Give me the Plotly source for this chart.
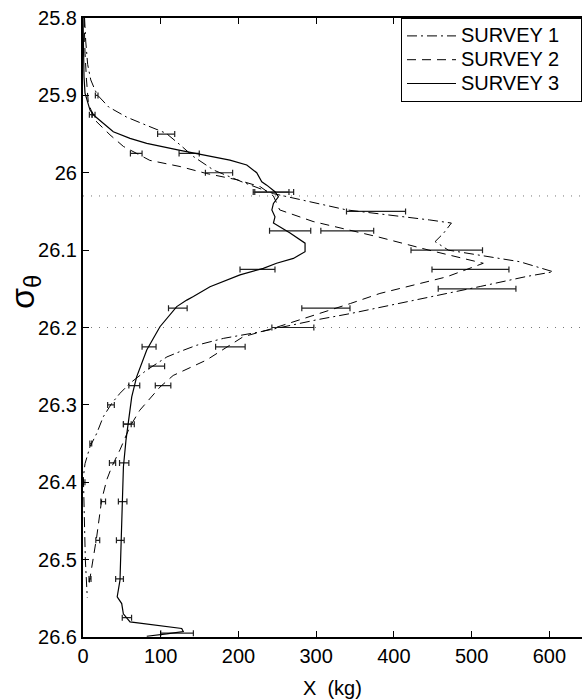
import plotly.graph_objects as go

# ---- profile lines (sigma_theta, X in kg) ----
s1_sig = [25.80, 25.83, 25.86, 25.88, 25.893, 25.90, 25.915, 25.928, 25.938, 25.949, 25.964, 25.979,
          25.9965, 26.012, 26.027, 26.048, 26.061, 26.065, 26.078, 26.089, 26.10, 26.115, 26.128, 26.134,
          26.147, 26.16, 26.169, 26.182, 26.19, 26.199, 26.2056, 26.214, 26.223, 26.231, 26.238, 26.255,
          26.272, 26.285, 26.298, 26.3155, 26.337, 26.354, 26.376, 26.393, 26.45, 26.50, 26.549]
s1_x = [2, 3.5, 6, 10, 15.4, 19, 33, 56, 80, 107, 125, 142,
        168, 205, 245, 339, 446, 474, 464, 453, 470, 562, 605, 571,
        511, 450, 408, 344, 301, 258, 228, 181, 146, 125, 108, 82,
        60.5, 47.6, 37, 26, 17.6, 9, 2.6, 0.5, 1.5, 3, 5.5]

s2_sig = [25.80, 25.8457, 25.88, 25.91, 25.932, 25.951, 25.966, 25.984, 25.992, 26.001, 26.009, 26.018,
          26.03, 26.048, 26.063, 26.073, 26.083, 26.10, 26.117, 26.1345, 26.145, 26.156, 26.169, 26.19,
          26.201, 26.212, 26.242, 26.262, 26.277, 26.307, 26.328, 26.358, 26.38, 26.397, 26.423, 26.4707,
          26.522, 26.537]
s2_x = [1.5, 2.6, 4.5, 6.9, 15.4, 34.7, 52, 86, 125, 159, 198, 228,
        245, 253, 296, 340, 380, 445, 515, 468, 425, 382, 344, 279,
        245, 206, 159, 116, 99, 73, 60.5, 47.6, 37, 30.5, 24, 17.6,
        9, 6.9]

s3_sig = [25.80, 25.8457, 25.876, 25.897, 25.919, 25.927, 25.936, 25.947, 25.9555, 25.962, 25.971, 25.979,
          25.9836, 25.990, 26.0, 26.0117, 26.016, 26.0246, 26.031, 26.0396, 26.048, 26.057, 26.065, 26.078,
          26.091, 26.102, 26.1107, 26.117, 26.1236, 26.132, 26.143, 26.1474, 26.160, 26.1646, 26.173, 26.199,
          26.229, 26.2638, 26.2897, 26.32, 26.3456, 26.38, 26.41, 26.4404, 26.505, 26.5266, 26.548, 26.5568,
          26.57, 26.5805, 26.589, 26.593, 26.596, 26.599]
s3_x = [0, 0.4, 1.3, 2.6, 9, 15.4, 26, 39, 60.5, 82, 125, 167.7,
        189, 210.7, 223.5, 230, 236.4, 247, 251.4, 245, 243, 247, 245, 266.4,
        285.7, 285.7, 270.7, 249, 232, 202, 176, 163.4, 142, 133.5, 120.6, 99,
        82, 69, 62.7, 58.3, 55.3, 52, 51, 49.8, 47.6, 47.6, 44, 49.8,
        51.9, 60.5, 127, 129, 107.7, 82]

# ---- error-bar points ----
e1_sig = [25.90, 25.95, 26.00, 26.05, 26.10, 26.15, 26.20, 26.25, 26.30, 26.35, 26.40]
e1_x = [17.6, 107, 175, 377, 468, 507, 270, 95, 36, 10, 1.5]
e1_err = [1.7, 11, 17.5, 38, 46, 50, 27, 10, 4.3, 1.2, 1]

e2_sig = [25.925, 25.975, 26.025, 26.075, 26.125, 26.175, 26.225, 26.275, 26.325, 26.375, 26.425, 26.475, 26.525]
e2_x = [10, 68.5, 245, 340, 498.5, 312.5, 189.6, 103, 57, 38, 26, 19, 9]
e2_err = [1.8, 7.5, 26, 34, 49.5, 31, 19, 10, 5, 4, 3, 2.5, 1.3]

e3_sig = [25.925, 25.975, 26.025, 26.075, 26.125, 26.175, 26.225, 26.275, 26.325, 26.375, 26.425, 26.475,
          26.525, 26.575, 26.595]
e3_x = [13.5, 136.6, 243, 266.5, 224.5, 122, 85, 66, 59, 53, 51, 48, 47, 56.5, 121]
e3_err = [2, 13, 22, 26.5, 22.5, 12, 9, 7, 7, 6, 5.5, 5, 5, 6, 21]

ref_levels = [26.03, 26.2]
x_ticks = [0, 100, 200, 300, 400, 500, 600]
y_ticks = [25.8, 25.9, 26.0, 26.1, 26.2, 26.3, 26.4, 26.5, 26.6]
y_ticklabels = ["25.8", "25.9", "26", "26.1", "26.2", "26.3", "26.4", "26.5", "26.6"]
series_names = ["SURVEY 1", "SURVEY 2", "SURVEY 3"]

FONT = "Liberation Sans, Arial, Helvetica, sans-serif"
PAD = "\u00a0\u00a0\u00a0"


def legend_name(s):
    return "<span style='font-size:20px'>" + s + PAD + "</span>"


fig = go.Figure()

for ex, ey, ee in [(e1_x, e1_sig, e1_err), (e2_x, e2_sig, e2_err), (e3_x, e3_sig, e3_err)]:
    fig.add_trace(go.Scatter(
        x=ex, y=ey, mode="markers",
        marker=dict(size=1, color="rgba(0,0,0,0)"),
        error_x=dict(type="data", array=ee, symmetric=True, color="#222222", thickness=1.2, width=3),
        showlegend=False, hoverinfo="skip"))

fig.add_trace(go.Scatter(x=s1_x, y=s1_sig, mode="lines", name=legend_name(series_names[0]),
                         line=dict(color="black", width=1, dash="10px,4px,2px,4px")))
fig.add_trace(go.Scatter(x=s2_x, y=s2_sig, mode="lines", name=legend_name(series_names[1]),
                         line=dict(color="black", width=1, dash="9px,6px")))
fig.add_trace(go.Scatter(x=s3_x, y=s3_sig, mode="lines", name=legend_name(series_names[2]),
                         line=dict(color="black", width=1.2)))

for lv in ref_levels:
    fig.add_shape(type="line", xref="paper", x0=0, x1=1, yref="y", y0=lv, y1=lv,
                  line=dict(color="#777777", width=1, dash="1px,7px"), layer="below")

fig.update_layout(
    width=582, height=700,
    margin=dict(l=83, r=0, t=18, b=63),
    paper_bgcolor="white", plot_bgcolor="white",
    font=dict(family=FONT, size=20, color="black"),
    showlegend=True,
    legend=dict(x=1, y=1, xanchor="right", yanchor="top",
                bgcolor="white", bordercolor="black", borderwidth=1,
                font=dict(size=16, family=FONT), itemwidth=49,
                tracegroupgap=0),
    xaxis=dict(range=[0, 642], tickvals=x_ticks, ticks="inside", ticklen=6, tickwidth=1,
               tickcolor="black", showline=True, linewidth=2, linecolor="black",
               mirror="ticks", showgrid=False, zeroline=False,
               tickfont=dict(size=20, family=FONT)),
    yaxis=dict(range=[26.6, 25.8], tickvals=y_ticks, ticktext=y_ticklabels,
               ticks="inside", ticklen=6, tickwidth=1, tickcolor="black",
               showline=True, linewidth=2, linecolor="black", mirror=False,
               showgrid=False, zeroline=False, tickfont=dict(size=20, family=FONT)),
    annotations=[
        dict(text="X\u00a0\u00a0(kg)", xref="paper", yref="paper", x=0.5, y=-(688 - 637) / 619,
             xanchor="center", yanchor="middle", showarrow=False,
             font=dict(size=20, family=FONT)),
        dict(text="σ<sub>θ</sub>", xref="paper", yref="paper", x=(25 - 83) / 499, y=(637 - 292) / 619,
             xanchor="center", yanchor="middle", showarrow=False, textangle=-90,
             font=dict(size=34, family=FONT)),
    ],
)

fig.write_html("out.html", config={"displayModeBar": False},
               post_script="document.body.style.margin='0px';")
